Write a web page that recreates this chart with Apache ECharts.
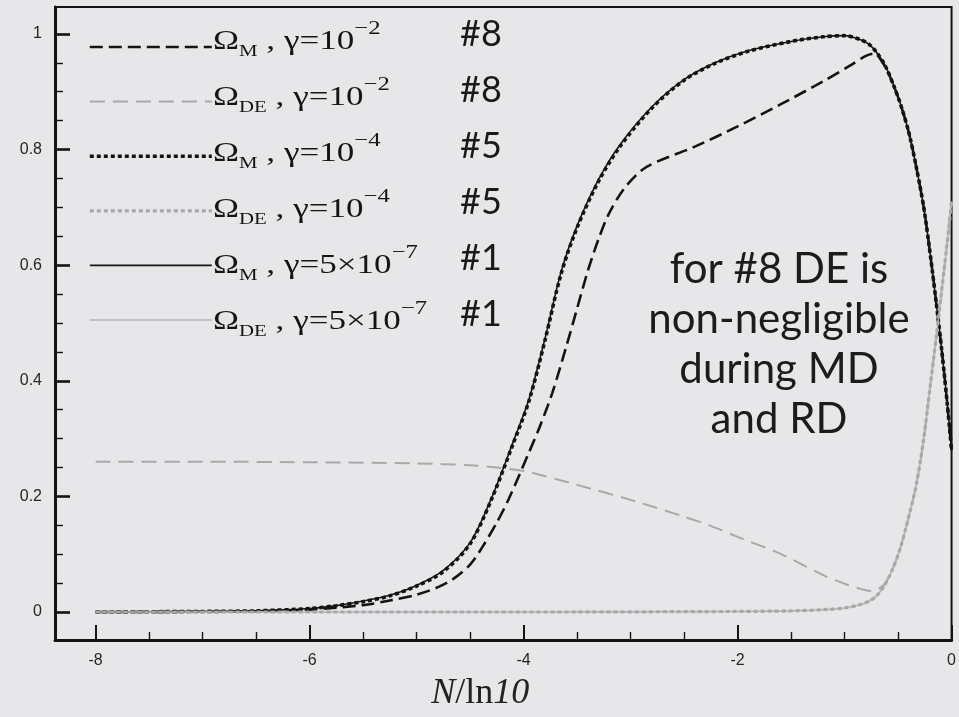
<!DOCTYPE html>
<html><head><meta charset="utf-8">
<script src="https://cdn.jsdelivr.net/npm/echarts@6/dist/echarts.min.js"></script>
<style>html,body{margin:0;padding:0;background:#e7e7e9}#c{width:959px;height:717px}</style>
</head><body><div id="c"></div><script>
// ---- data ----
const xMajorTicks = [-8, -6, -4, -2, 0];
const xMinorTicks = [-7.5, -7, -6.5, -5.5, -5, -4.5, -3.5, -3, -2.5, -1.5, -1, -0.5];
const yMajorTicks = [0, 0.2, 0.4, 0.6, 0.8, 1];
const yMinorTicks = [0.05, 0.1, 0.15, 0.25, 0.3, 0.35, 0.45, 0.5, 0.55, 0.65, 0.7, 0.75, 0.85, 0.9, 0.95];

const seriesNames = ['OmegaM_g1e-2', 'OmegaDE_g1e-2', 'OmegaM_g1e-4', 'OmegaDE_g1e-4', 'OmegaM_g5e-7', 'OmegaDE_g5e-7'];
const legendSubs = ['M', 'DE', 'M', 'DE', 'M', 'DE'];
const legendBases = ['10', '10', '10', '10', '5\u00d710', '5\u00d710'];
const legendExps = ['\u22122', '\u22122', '\u22124', '\u22124', '\u22127', '\u22127'];
const caseTags = ['#8', '#8', '#5', '#5', '#1', '#1'];
const noteLines = ['for #8 DE is', 'non-negligible', 'during MD', 'and RD'];

// Omega_M, gamma = 1e-2 (#8)
const omegaM_8 = [[-8,0],[-7,0.0005],[-6.5,0.001],[-6,0.004],[-5.5,0.012],[-5.25,0.02],[-5,0.03],[-4.8,0.043],[-4.66,0.057],[-4.5,0.082],[-4.38,0.114],[-4.25,0.155],[-4.14,0.195],[-3.95,0.276],[-3.85,0.32],[-3.73,0.38],[-3.6,0.46],[-3.5,0.525],[-3.4,0.59],[-3.3,0.645],[-3.2,0.69],[-3.05,0.735],[-2.85,0.77],[-2.4,0.805],[-2.0,0.84],[-1.6,0.878],[-1.2,0.918],[-0.95,0.945],[-0.8,0.962],[-0.72,0.966],[-0.66,0.955],[-0.6,0.936],[-0.55,0.915],[-0.48,0.88],[-0.4,0.83],[-0.33,0.77],[-0.26,0.7],[-0.2,0.62],[-0.14,0.53],[-0.09,0.45],[-0.04,0.36],[0,0.28]];
// Omega_DE, gamma = 1e-2 (#8)
const omegaDE_8 = [[-8,0.26],[-7,0.26],[-6,0.259],[-5,0.257],[-4.5,0.254],[-4.25,0.25],[-4,0.244],[-3.8,0.235],[-3.5,0.22],[-3.0,0.194],[-2.5,0.165],[-2.25,0.149],[-2.0,0.13],[-1.64,0.104],[-1.48,0.09],[-1.18,0.062],[-1.0,0.049],[-0.85,0.04],[-0.75,0.036],[-0.68,0.04],[-0.62,0.05],[-0.55,0.075],[-0.48,0.11],[-0.4,0.165],[-0.33,0.22],[-0.26,0.3],[-0.2,0.39],[-0.14,0.48],[-0.09,0.56],[-0.04,0.64],[0,0.71]];
// Omega_M, gamma = 1e-4 (#5)
const omegaM_5 = [[-8,0],[-7.5,0.0005],[-7,0.001],[-6.5,0.002],[-6,0.006],[-5.75,0.011],[-5.5,0.018],[-5.25,0.028],[-5,0.045],[-4.75,0.07],[-4.5,0.118],[-4.3,0.195],[-4.1,0.29],[-3.95,0.365],[-3.8,0.47],[-3.65,0.585],[-3.5,0.665],[-3.3,0.745],[-3.1,0.805],[-2.8,0.872],[-2.5,0.92],[-2.2,0.95],[-1.9,0.97],[-1.5,0.987],[-1.2,0.995],[-1.0,0.997],[-0.85,0.99],[-0.77,0.982],[-0.7,0.968],[-0.62,0.945],[-0.55,0.915],[-0.48,0.88],[-0.4,0.83],[-0.33,0.77],[-0.26,0.7],[-0.2,0.62],[-0.14,0.53],[-0.09,0.45],[-0.04,0.36],[0,0.28]];
// Omega_DE, gamma = 1e-4 (#5)
const omegaDE_5 = [[-8,0],[-6,0],[-4,0],[-2,0.001],[-1.5,0.002],[-1.2,0.004],[-1.0,0.007],[-0.85,0.013],[-0.77,0.019],[-0.7,0.028],[-0.62,0.048],[-0.55,0.075],[-0.48,0.11],[-0.4,0.165],[-0.33,0.22],[-0.26,0.3],[-0.2,0.39],[-0.14,0.48],[-0.09,0.56],[-0.04,0.64],[0,0.71]];
// Omega_M, gamma = 5e-7 (#1)
const omegaM_1 = [[-8,0],[-7.5,0.0005],[-7,0.001],[-6.5,0.002],[-6,0.006],[-5.75,0.011],[-5.5,0.019],[-5.25,0.029],[-5,0.046],[-4.75,0.072],[-4.5,0.12],[-4.3,0.197],[-4.1,0.293],[-3.95,0.368],[-3.8,0.473],[-3.65,0.588],[-3.5,0.668],[-3.3,0.748],[-3.1,0.808],[-2.8,0.874],[-2.5,0.921],[-2.2,0.951],[-1.9,0.971],[-1.5,0.987],[-1.2,0.995],[-1.0,0.997],[-0.85,0.99],[-0.77,0.982],[-0.7,0.968],[-0.62,0.945],[-0.55,0.915],[-0.48,0.88],[-0.4,0.83],[-0.33,0.77],[-0.26,0.7],[-0.2,0.62],[-0.14,0.53],[-0.09,0.45],[-0.04,0.36],[0,0.28]];
// Omega_DE, gamma = 5e-7 (#1)
const omegaDE_1 = [[-8,0],[-6,0],[-4,0],[-2,0.001],[-1.5,0.002],[-1.2,0.004],[-1.0,0.007],[-0.85,0.013],[-0.77,0.019],[-0.7,0.028],[-0.62,0.048],[-0.55,0.075],[-0.48,0.11],[-0.4,0.165],[-0.33,0.22],[-0.26,0.3],[-0.2,0.39],[-0.14,0.48],[-0.09,0.56],[-0.04,0.64],[0,0.71]];

const seriesData = [omegaM_8, omegaDE_8, omegaM_5, omegaDE_5, omegaM_1, omegaDE_1];

// ---- styles ----
const BLACK = '#141414', GRAY = '#a9a9ab';
const lineStyles = [
  {color: BLACK, width: 2.6, type: [13, 6]},
  {color: GRAY, width: 2, type: [15, 8]},
  {color: BLACK, width: 3.6, type: [4, 3]},
  {color: GRAY, width: 3.2, type: [4, 3]},
  {color: BLACK, width: 1.6, type: 'solid'},
  {color: '#b4b4b6', width: 1.6, type: 'solid'}
];
const zs = [4, 3, 4, 7, 5, 6];

const XMIN = -8.38, XMAX = 0, YMIN = -0.0484, YMAX = 1.0466;

const chart = echarts.init(document.getElementById('c'), null, {renderer: 'canvas'});

const serif = 'Liberation Serif';
const labelColor = '#151515';

const series = seriesNames.map((n, i) => ({
  name: n,
  type: 'line',
  data: seriesData[i],
  showSymbol: false,
  symbol: 'none',
  smooth: 0.3,
  z: zs[i],
  lineStyle: {color: lineStyles[i].color, width: lineStyles[i].width, type: lineStyles[i].type, cap: 'butt'},
  itemStyle: {color: lineStyles[i].color},
  emphasis: {disabled: true},
  silent: true,
  animation: false
}));

const rowY = i => 42 + i * 56;
const richLegend = {
  o: {fontFamily: serif, fontSize: 27, lineHeight: 36, fill: labelColor, color: labelColor},
  s: {fontFamily: serif, fontSize: 16, lineHeight: 36, padding: [20, 0, 0, 0], fill: labelColor, color: labelColor},
  p: {fontFamily: serif, fontSize: 19, lineHeight: 36, padding: [0, 0, 26, 0], fill: labelColor, color: labelColor}
};
const graphics = [];
seriesNames.forEach((n, i) => {
  graphics.push({
    type: 'text', z: 10, x: 213, y: rowY(i), scaleX: 1.3, silent: true,
    style: {
      text: '{o|\u03a9}{s|' + legendSubs[i] + '}{o| , \u03b3=' + legendBases[i] + '}{p|' + legendExps[i] + '}',
      x: 0, y: 0, align: 'left', verticalAlign: 'middle', textAlign: 'left', textVerticalAlign: 'middle',
      rich: richLegend, fill: labelColor
    }
  });
  graphics.push({
    type: 'text', z: 10, silent: true,
    style: {
      text: caseTags[i], x: 481, y: rowY(i) - 8,
      align: 'center', verticalAlign: 'middle', textAlign: 'center', textVerticalAlign: 'middle',
      fontFamily: 'Lato', fontSize: 36, fill: '#1a1a1a'
    }
  });
});
graphics.push({
  type: 'text', z: 10, silent: true,
  style: {
    text: noteLines.join('\n'), x: 779, y: 244,
    align: 'center', verticalAlign: 'top', textAlign: 'center', textVerticalAlign: 'top',
    fontFamily: 'Lato', fontSize: 42, lineHeight: 50, fill: '#1c1c1c'
  }
});

const axisTickBase = {inside: true, lineStyle: {color: BLACK}};

chart.setOption({
  animation: false,
  backgroundColor: '#e7e7e9',
  grid: {left: 55, right: 1, top: 7, bottom: 76, show: true, borderColor: BLACK, borderWidth: 2, backgroundColor: 'transparent'},
  legend: {
    data: seriesNames,
    orient: 'vertical',
    left: 83, top: 35,
    itemWidth: 122, itemHeight: 14, itemGap: 42,
    selectedMode: false,
    itemStyle: {opacity: 0},
    lineStyle: {width: 'inherit', type: 'inherit', cap: 'butt'},
    formatter: function () { return ''; },
    textStyle: {fontSize: 10}
  },
  xAxis: [{
    type: 'value', min: XMIN, max: XMAX, position: 'bottom',
    name: '{i|N}{r|/ln}{i|10}', nameLocation: 'middle', nameGap: 36,
    nameTextStyle: {padding: [0, 46, 0, 0], rich: {
      i: {fontFamily: serif, fontStyle: 'italic', fontSize: 36, color: '#222'},
      r: {fontFamily: serif, fontSize: 36, color: '#222'}
    }},
    axisLine: {show: true, onZero: false, lineStyle: {color: BLACK, width: 3}},
    axisTick: Object.assign({}, axisTickBase, {length: 15, customValues: xMajorTicks, lineStyle: {color: BLACK, width: 2}}),
    axisLabel: {customValues: xMajorTicks, margin: 13, fontFamily: 'Liberation Sans', fontSize: 16, color: '#262626'},
    splitLine: {show: false}
  }, {
    type: 'value', min: XMIN, max: XMAX, position: 'bottom',
    axisLine: {show: false, onZero: false},
    axisTick: Object.assign({}, axisTickBase, {length: 8, customValues: xMinorTicks, lineStyle: {color: BLACK, width: 1.4}}),
    axisLabel: {show: false},
    splitLine: {show: false}
  }],
  yAxis: [{
    type: 'value', min: YMIN, max: YMAX, position: 'left',
    axisLine: {show: true, onZero: false, lineStyle: {color: BLACK, width: 3}},
    axisTick: Object.assign({}, axisTickBase, {length: 15, customValues: yMajorTicks, lineStyle: {color: BLACK, width: 2.6}}),
    axisLabel: {customValues: yMajorTicks, margin: 13, fontFamily: 'Liberation Sans', fontSize: 16, color: '#262626'},
    splitLine: {show: false}
  }, {
    type: 'value', min: YMIN, max: YMAX, position: 'left',
    axisLine: {show: false, onZero: false},
    axisTick: Object.assign({}, axisTickBase, {length: 8, customValues: yMinorTicks, lineStyle: {color: BLACK, width: 1.4}}),
    axisLabel: {show: false},
    splitLine: {show: false}
  }],
  series: series,
  graphic: graphics
});
</script></body></html>
